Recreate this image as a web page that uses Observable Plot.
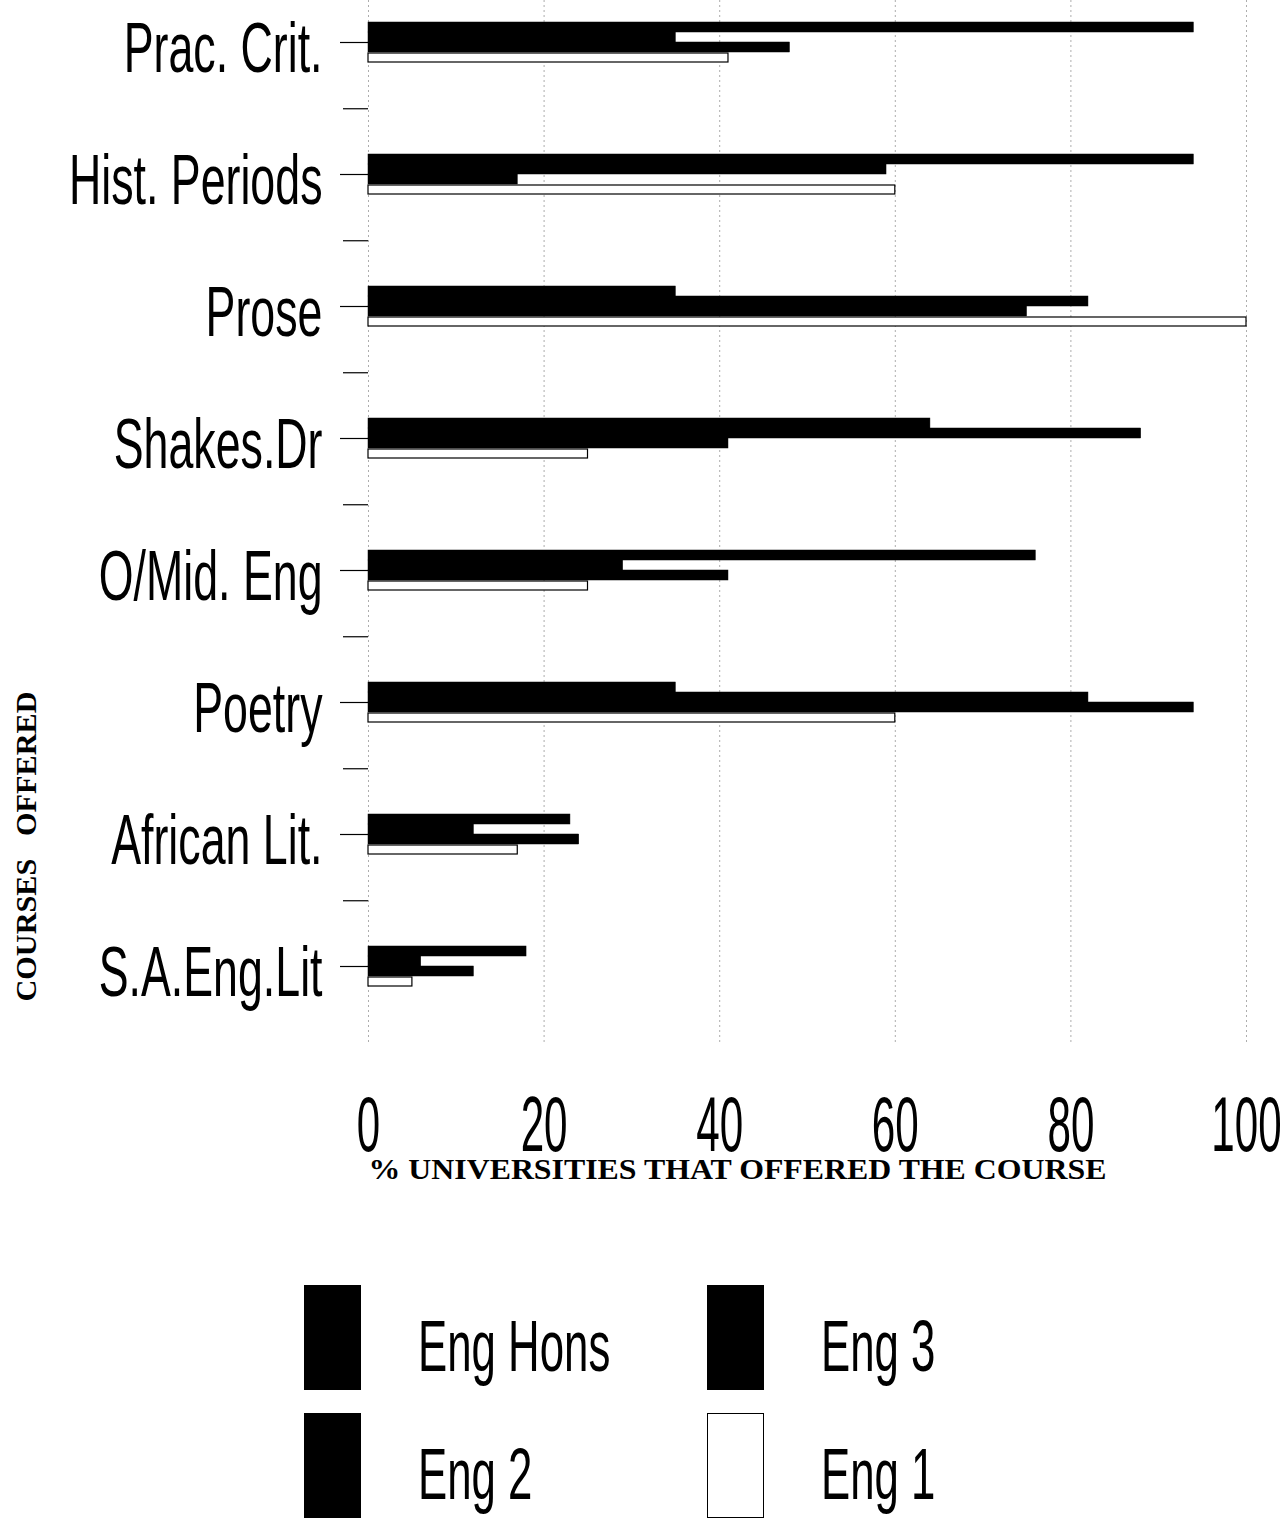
<!DOCTYPE html>
<html>
<head>
<meta charset="utf-8">
<script src="https://cdn.jsdelivr.net/npm/d3@7"></script>
<script src="https://cdn.jsdelivr.net/npm/@observablehq/plot@0.6"></script>
<style>
  body { margin: 0; background: #fff; }
  #chart { width: 1285px; }
  #legend { position: relative; width: 1285px; height: 323px; }
  .sw { position: absolute; width: 57px; height: 105px; box-sizing: border-box; }
  .lt { position: absolute; font-family: "Liberation Sans", Arial, sans-serif; font-size: 73px; line-height: 1;
        transform: scaleX(0.6); transform-origin: left center; white-space: nowrap; color: #000; }
</style>
</head>
<body>
<div id="chart"></div>
<div id="legend"></div>
<script>
// ---- data ----
const categories = ["Prac. Crit.", "Hist. Periods", "Prose", "Shakes.Dr", "O/Mid. Eng", "Poetry", "African Lit.", "S.A.Eng.Lit"];
const seriesNames = ["Eng Hons", "Eng 3", "Eng 2", "Eng 1"];
const engHons = [94, 94, 35, 64, 76, 35, 23, 18];
const eng3    = [35, 59, 82, 88, 29, 82, 12, 6];
const eng2    = [48, 17, 75, 41, 41, 94, 24, 12];
const eng1    = [41, 60, 100, 25, 25, 60, 17, 5];
const xTicks = [0, 20, 40, 60, 80, 100];
const xLabel = "% UNIVERSITIES THAT OFFERED THE COURSE";
const yLabel = "COURSES\u00a0\u00a0\u00a0OFFERED";

const seriesValues = [engHons, eng3, eng2, eng1];
const seriesFill = ["#000", "#000", "#000", "#fff"];

const rows = [];
seriesNames.forEach((s, k) => categories.forEach((c, i) => rows.push({course: c, series: s, value: seriesValues[k][i]})));

const barMarks = seriesNames.map((s, k) => Plot.barX(rows.filter(r => r.series === s), {
  x: "value", y: "course",
  fill: seriesFill[k], stroke: "#000", strokeWidth: k === 3 ? 1.2 : 0.5,
  insetTop: k * 10 + (k === 3 ? 1 : 0), insetBottom: (3 - k) * 10
}));

const gridStyle = {stroke: "#777", strokeOpacity: 0.6, strokeDasharray: "2,3"};
const serif = "'Liberation Serif', 'DejaVu Serif', serif";

const chart = Plot.plot({
  width: 1285,
  height: 1200,
  marginLeft: 368,
  marginRight: 39,
  marginTop: 0,
  marginBottom: 155,
  style: {fontFamily: "'Liberation Sans', Arial, sans-serif", background: "#fff", color: "#000"},
  x: {domain: [0, 100]},
  y: {domain: categories, range: [-26, 1034], paddingInner: 0.7, paddingOuter: 0.35},
  marks: [
    Plot.gridX({ticks: xTicks.slice(1), ...gridStyle}),
    Plot.ruleX([0], gridStyle),
    ...barMarks,
    Plot.axisY({tickSize: 28, text: null, label: null, strokeWidth: 1.2}),
    Plot.axisY({tickSize: 0, tickPadding: 46, dy: 7, fontSize: 71, label: null}),
    Plot.axisY({ticks: categories.slice(0, 7), tickSize: 25, text: null, dy: 66.25, label: null, strokeWidth: 1.2}),
    Plot.axisX({ticks: xTicks, tickSize: 0, tickPadding: 50, fontSize: 78, label: null}),
    Plot.text([xLabel], {frameAnchor: "bottom-left", textAnchor: "start", lineAnchor: "bottom", dy: 133,
      fontSize: 29, fontWeight: "bold", fontFamily: serif}),
    Plot.text([yLabel], {frameAnchor: "bottom-left", textAnchor: "start", lineAnchor: "middle", rotate: -90,
      dx: -342, dy: -44,
      fontSize: 30, fontWeight: "bold", fontFamily: serif})
  ]
});
document.getElementById("chart").appendChild(chart);

// compress the narrow labels horizontally, like the original condensed typefaces
function squeeze(selector, factor) {
  chart.querySelectorAll(selector).forEach(t => {
    const w = t.getComputedTextLength();
    t.setAttribute("textLength", (w * factor).toFixed(1));
    t.setAttribute("lengthAdjust", "spacingAndGlyphs");
  });
}
function fitTo(el, target) {
  const w = el.getComputedTextLength();
  squeezeEl(el, target / w);
}
function squeezeEl(t, factor) {
  const w = t.getComputedTextLength();
  t.setAttribute("textLength", (w * factor).toFixed(1));
  t.setAttribute("lengthAdjust", "spacingAndGlyphs");
}
squeeze('g[aria-label="y-axis tick label"] text', 0.63);
squeeze('g[aria-label="x-axis tick label"] text', 0.54);
const textGroups = chart.querySelectorAll('g[aria-label="text"] text');
textGroups.forEach(t => {
  if (t.textContent === xLabel) fitTo(t, 738);
  else if (t.textContent === yLabel) fitTo(t, 310);
});

// legend
const legend = document.getElementById("legend");
seriesNames.forEach((s, k) => {
  const col = k % 2, row = Math.floor(k / 2);
  const sw = document.createElement("div");
  sw.className = "sw";
  sw.style.left = (304 + col * 403) + "px";
  sw.style.top = (85 + row * 128) + "px";
  sw.style.background = seriesFill[k];
  sw.style.border = "1.5px solid #000";
  legend.appendChild(sw);
  const tx = document.createElement("div");
  tx.className = "lt";
  tx.style.left = (418 + col * 403) + "px";
  tx.style.top = (85 + row * 128 + 24) + "px";
  tx.textContent = s;
  legend.appendChild(tx);
});
</script>
</body>
</html>
